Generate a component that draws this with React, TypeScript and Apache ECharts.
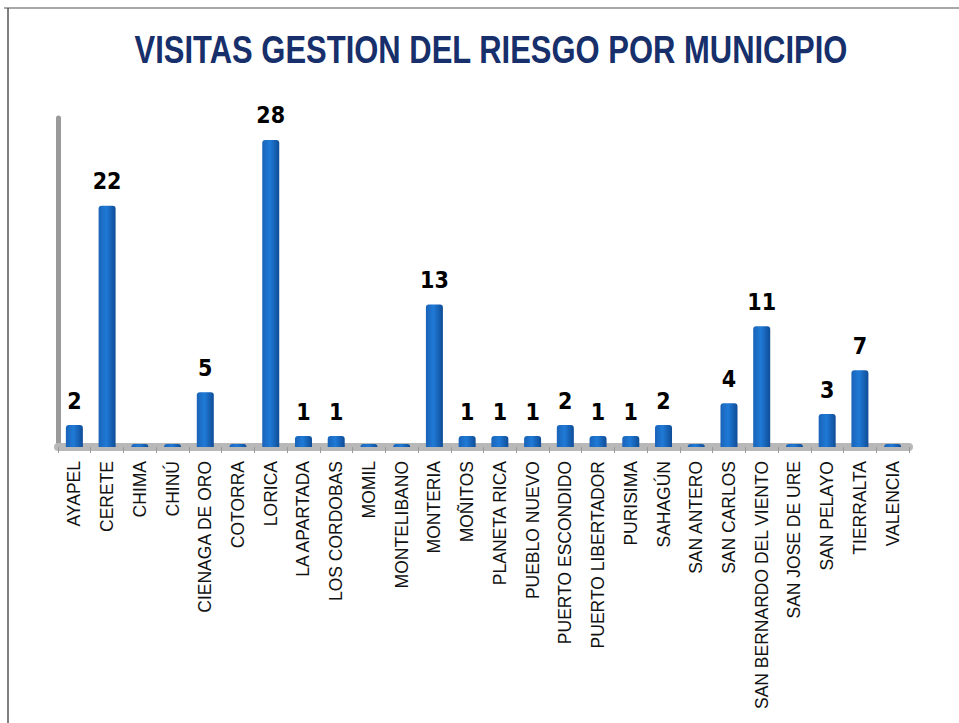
import React, { useEffect, useRef } from "react";
import * as echarts from "echarts";

const categories = [
  "AYAPEL", "CERETE", "CHIMA", "CHINÚ", "CIENAGA DE ORO", "COTORRA", "LORICA",
  "LA APARTADA", "LOS CORDOBAS", "MOMIL", "MONTELIBANO", "MONTERIA", "MOÑITOS",
  "PLANETA RICA", "PUEBLO NUEVO", "PUERTO ESCONDIDO", "PUERTO LIBERTADOR",
  "PURISIMA", "SAHAGÚN", "SAN ANTERO", "SAN CARLOS", "SAN BERNARDO DEL VIENTO",
  "SAN JOSE DE URE", "SAN PELAYO", "TIERRALTA", "VALENCIA",
];
const visitas = [2, 22, 0, 0, 5, 0, 28, 1, 1, 0, 0, 13, 1, 1, 1, 2, 1, 1, 2, 0, 4, 11, 0, 3, 7, 0];
const titleText = "VISITAS GESTION DEL RIESGO POR MUNICIPIO";
const yMax = 30;

export default function App() {
  const ref = useRef<HTMLDivElement>(null);
  useEffect(() => {
    if (!ref.current) return;
    const chart = echarts.init(ref.current, undefined, { renderer: "svg" });
    const condensed = "'DejaVu Sans Condensed', 'Liberation Sans', sans-serif";
    const sans = "'Liberation Sans', Arial, sans-serif";
    chart.setOption({
      animation: false,
      backgroundColor: "#ffffff",
      graphic: [
        { type: "line", shape: { x1: 4, y1: 8, x2: 959, y2: 8 }, style: { stroke: "#a8a8a8", lineWidth: 2 } },
        { type: "line", shape: { x1: 8, y1: 8, x2: 8, y2: 723 }, style: { stroke: "#555555", lineWidth: 1.5 } },
        {
          type: "text",
          x: 491,
          y: 50,
          scaleX: 0.815,
          style: {
            text: titleText,
            textAlign: "center",
            textVerticalAlign: "middle",
            fontFamily: sans,
            fontWeight: "bold",
            fontSize: 38,
            fill: "#172f6b",
          },
        },
      ],
      grid: { left: 58, right: 50, top: 118, bottom: 276, containLabel: false },
      xAxis: {
        type: "category",
        data: categories,
        axisLine: { show: true, lineStyle: { color: "#b8b8b8", width: 8 } },
        axisTick: { show: true, alignWithLabel: false, length: 6, lineStyle: { color: "#999999" } },
        axisLabel: {
          interval: 0,
          rotate: 90,
          margin: 14,
          fontFamily: sans,
          fontSize: 17.5,
          color: "#111111",
        },
      },
      yAxis: {
        type: "value",
        min: 0,
        max: yMax,
        interval: 10,
        axisLine: { show: true, lineStyle: { color: "#9a9a9a", width: 5 } },
        axisTick: { show: false },
        axisLabel: { show: false },
        splitLine: { show: false },
      },
      series: [
        {
          type: "bar",
          data: visitas,
          barWidth: 17,
          barMinHeight: 3,
          itemStyle: {
            borderRadius: [3, 3, 0, 0],
            color: new echarts.graphic.LinearGradient(0, 0, 1, 0, [
              { offset: 0, color: "#1a63b8" },
              { offset: 0.45, color: "#1f7ad6" },
              { offset: 1, color: "#0f4c97" },
            ]),
          },
          label: {
            show: true,
            position: "top",
            distance: 13,
            fontFamily: condensed,
            fontWeight: "bold",
            fontSize: 23,
            color: "#000000",
            formatter: (p: any) => (p.value > 0 ? String(p.value) : ""),
          },
        },
      ],
    });
    return () => chart.dispose();
  }, []);
  return (
    <div
      ref={ref}
      style={{ position: "fixed", left: 0, top: 0, width: 959, height: 723 }}
    />
  );
}
